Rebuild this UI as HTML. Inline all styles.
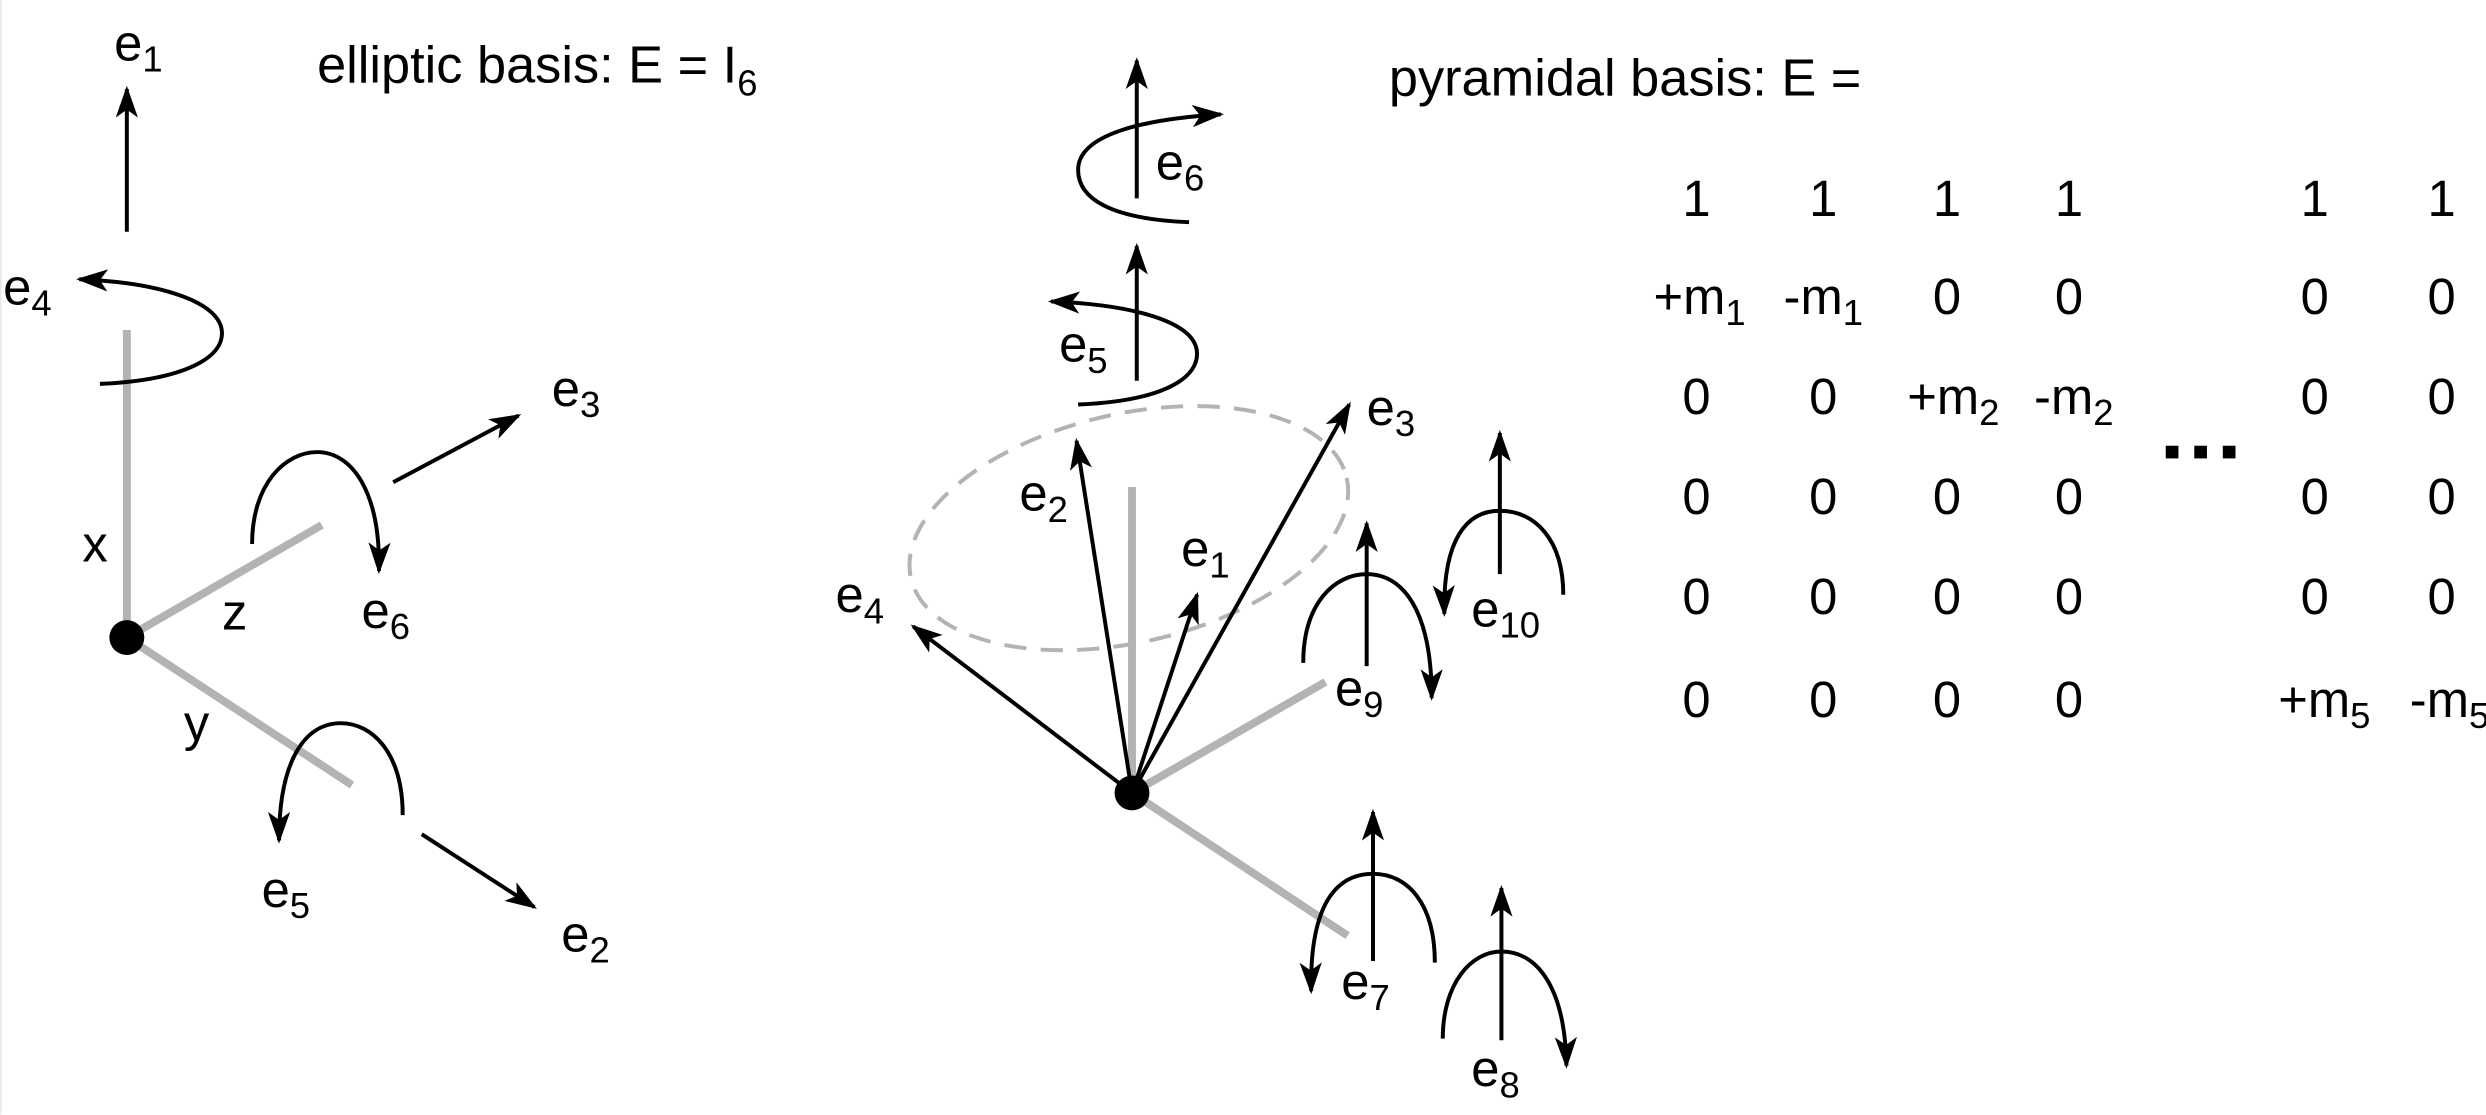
<!DOCTYPE html>
<html><head><meta charset="utf-8"><style>
html,body{margin:0;padding:0;background:#fff;}
svg{display:block;}
text{font-family:"Liberation Sans",Arial,sans-serif;fill:#000;}
.l{font-size:32px;}
.s{font-size:23px;}
.t{font-size:33px;}
</style></head><body>
<svg width="2486" height="1115" viewBox="0 0 1568 703" xmlns="http://www.w3.org/2000/svg">
<defs>
<marker id="a" viewBox="0 0 20 14" refX="18" refY="7" markerWidth="20" markerHeight="14" markerUnits="userSpaceOnUse" orient="auto">
<path d="M0,0 L20,7 L0,14 L5,7 z" fill="#000"/>
</marker>
</defs>
<rect x="0" y="0" width="1568" height="703" fill="#fff"/>
<line x1="0.5" y1="0" x2="0.5" y2="703" stroke="#e8e8e8" stroke-width="1"/>

<!-- LEFT -->
<g stroke="#b3b3b3" stroke-width="5" fill="none">
<line x1="80" y1="402" x2="80" y2="208"/>
<line x1="80" y1="402" x2="203" y2="331"/>
<line x1="80" y1="402" x2="222" y2="495"/>
</g>
<circle cx="80" cy="402" r="11" fill="#000"/>
<g stroke="#000" stroke-width="2.5" fill="none" marker-end="url(#a)">
<line x1="80" y1="146" x2="80" y2="56"/>
<path d="M63,242 C110,240 140,228 140,210 C140,190 100,178 50,176"/>
<line x1="248" y1="304" x2="327" y2="262"/>
<path d="M159,343 C159,305 180,285 200,285 C222,285 240,310 239,360"/>
<path d="M254,514 C254,475 235,456 215,456 C192,456 176,480 176,530"/>
<line x1="266" y1="526" x2="337" y2="572"/>
</g>
<text class="l" x="72" y="38">e<tspan class="s" dy="7">1</tspan></text>
<text class="l" x="2" y="192">e<tspan class="s" dy="7">4</tspan></text>
<text class="l" x="348" y="256">e<tspan class="s" dy="7">3</tspan></text>
<text class="l" x="228" y="396">e<tspan class="s" dy="7">6</tspan></text>
<text class="l" x="165" y="572">e<tspan class="s" dy="7">5</tspan></text>
<text class="l" x="354" y="600">e<tspan class="s" dy="7">2</tspan></text>
<text class="l" x="52" y="354">x</text>
<text class="l" x="140" y="397">z</text>
<text class="l" x="116" y="467">y</text>
<text class="t" x="200" y="52">elliptic basis: E = I<tspan class="s" dy="8">6</tspan></text>

<!-- RIGHT -->
<ellipse cx="712" cy="333" rx="141" ry="72" transform="rotate(-13 712 333)" fill="none" stroke="#b3b3b3" stroke-width="2.5" stroke-dasharray="14,9"/>
<g stroke="#b3b3b3" stroke-width="5" fill="none">
<line x1="714" y1="500" x2="714" y2="307"/>
<line x1="714" y1="500" x2="836" y2="430"/>
<line x1="714" y1="500" x2="850" y2="590"/>
</g>
<g stroke="#000" stroke-width="2.5" fill="none" marker-end="url(#a)">
<line x1="714" y1="500" x2="576" y2="395"/>
<line x1="714" y1="500" x2="679" y2="278"/>
<line x1="714" y1="500" x2="755" y2="375"/>
<line x1="714" y1="500" x2="851" y2="255"/>
<line x1="717" y1="125" x2="717" y2="38"/>
<path d="M750,140 C700,138 680,125 680,107 C680,85 720,75 770,72"/>
<line x1="717" y1="240" x2="717" y2="155"/>
<path d="M680,255 C730,253 755,240 755,223 C755,203 715,192 663,190"/>
<line x1="862" y1="420" x2="862" y2="330"/>
<path d="M822,418 C822,380 842,362 862,362 C885,362 903,385 903,440"/>
<line x1="946" y1="362" x2="946" y2="273"/>
<path d="M986,375 C986,340 968,322 946,322 C925,322 910,340 911,387"/>
<line x1="866" y1="606" x2="866" y2="512"/>
<path d="M905,607 C905,570 888,551 866,551 C843,551 826,570 827,625"/>
<line x1="947" y1="656" x2="947" y2="560"/>
<path d="M910,655 C910,620 928,600 947,600 C968,600 987,620 988,672"/>
</g>
<circle cx="714" cy="500" r="11" fill="#000"/>
<text class="l" x="527" y="386">e<tspan class="s" dy="7">4</tspan></text>
<text class="l" x="643" y="322">e<tspan class="s" dy="7">2</tspan></text>
<text class="l" x="745" y="357">e<tspan class="s" dy="7">1</tspan></text>
<text class="l" x="862" y="268">e<tspan class="s" dy="7">3</tspan></text>
<text class="l" x="729" y="113">e<tspan class="s" dy="7">6</tspan></text>
<text class="l" x="668" y="228">e<tspan class="s" dy="7">5</tspan></text>
<text class="l" x="842" y="445">e<tspan class="s" dy="7">9</tspan></text>
<text class="l" x="928" y="395">e<tspan class="s" dy="7">10</tspan></text>
<text class="l" x="846" y="630">e<tspan class="s" dy="7">7</tspan></text>
<text class="l" x="928" y="685">e<tspan class="s" dy="7">8</tspan></text>

<!-- MATRIX -->
<text class="t" x="876" y="60">pyramidal basis: E =</text>
<g text-anchor="middle">
<text class="l" x="1070" y="136">1</text><text class="l" x="1150" y="136">1</text><text class="l" x="1228" y="136">1</text><text class="l" x="1305" y="136">1</text><text class="l" x="1460" y="136">1</text><text class="l" x="1540" y="136">1</text>
<text class="l" x="1072" y="198">+m<tspan class="s" dy="7">1</tspan></text><text class="l" x="1150" y="198">-m<tspan class="s" dy="7">1</tspan></text><text class="l" x="1228" y="198">0</text><text class="l" x="1305" y="198">0</text><text class="l" x="1460" y="198">0</text><text class="l" x="1540" y="198">0</text>
<text class="l" x="1070" y="261">0</text><text class="l" x="1150" y="261">0</text><text class="l" x="1232" y="261">+m<tspan class="s" dy="7">2</tspan></text><text class="l" x="1308" y="261">-m<tspan class="s" dy="7">2</tspan></text><text class="l" x="1460" y="261">0</text><text class="l" x="1540" y="261">0</text>
<text class="l" x="1070" y="324">0</text><text class="l" x="1150" y="324">0</text><text class="l" x="1228" y="324">0</text><text class="l" x="1305" y="324">0</text><text class="l" x="1460" y="324">0</text><text class="l" x="1540" y="324">0</text>
<text class="l" x="1070" y="387">0</text><text class="l" x="1150" y="387">0</text><text class="l" x="1228" y="387">0</text><text class="l" x="1305" y="387">0</text><text class="l" x="1460" y="387">0</text><text class="l" x="1540" y="387">0</text>
<text class="l" x="1070" y="452">0</text><text class="l" x="1150" y="452">0</text><text class="l" x="1228" y="452">0</text><text class="l" x="1305" y="452">0</text><text class="l" x="1466" y="452">+m<tspan class="s" dy="7">5</tspan></text><text class="l" x="1545" y="452">-m<tspan class="s" dy="7">5</tspan></text>
</g>
<g fill="#000"><rect x="1366" y="281" width="8" height="8"/><rect x="1384" y="281" width="8" height="8"/><rect x="1402" y="281" width="8" height="8"/></g>
</svg>
</body></html>
